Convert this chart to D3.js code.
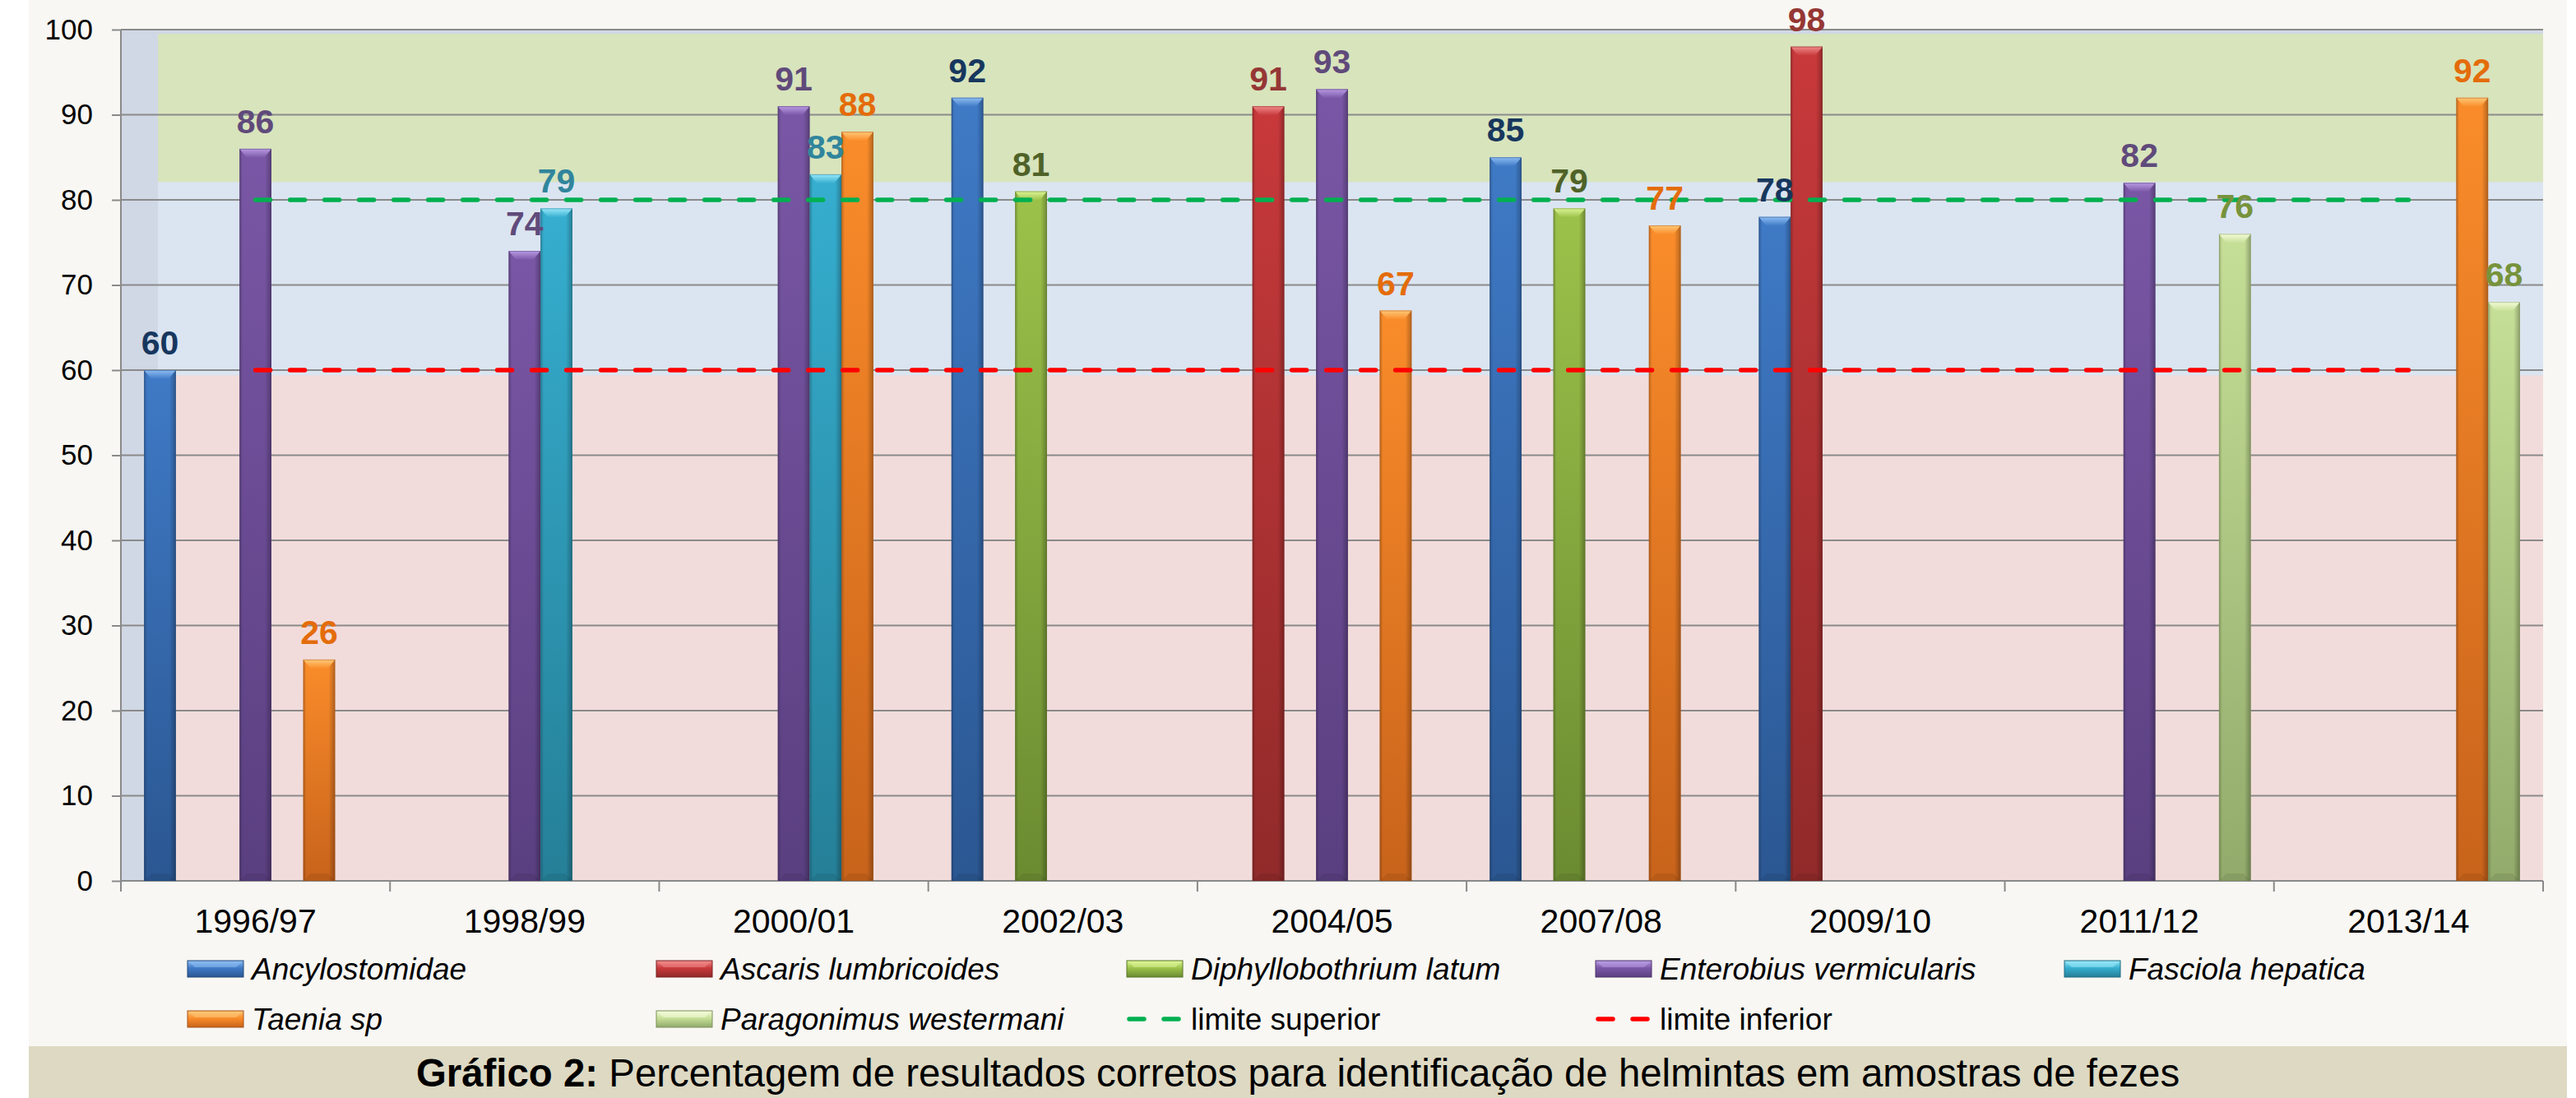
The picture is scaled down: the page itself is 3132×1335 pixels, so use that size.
<!DOCTYPE html>
<html>
<head>
<meta charset="utf-8">
<script src="https://cdn.jsdelivr.net/npm/d3@7"></script>
<style>
  html, body { margin: 0; padding: 0; background: #ffffff; }
  svg { display: block; font-family: "Liberation Sans", Arial, Helvetica, sans-serif; }
</style>
</head>
<body>
<svg id="chart" width="3132" height="1335"></svg>
<script>
// ---- data ----------------------------------------------------------------
const categories = ["1996/97", "1998/99", "2000/01", "2002/03", "2004/05",
                    "2007/08", "2009/10", "2011/12", "2013/14"];

const seriesNames = ["Ancylostomidae", "Ascaris lumbricoides", "Diphyllobothrium latum",
                     "Enterobius vermicularis", "Fasciola hepatica", "Taenia sp",
                     "Paragonimus westermani"];

// % of correct identifications per year (null = not sent that year)
const ancylostomidae   = [60, null, null, 92, null, 85, 78, null, null];
const ascaris          = [null, null, null, null, 91, null, 98, null, null];
const diphyllobothrium = [null, null, null, 81, null, 79, null, null, null];
const enterobius       = [86, 74, 91, null, 93, null, null, 82, null];
const fasciola         = [null, 79, 83, null, null, null, null, null, null];
const taenia           = [26, null, 88, null, 67, 77, null, null, 92];
const paragonimus      = [null, null, null, null, null, null, null, 76, 68];

const limiteSuperior = [80, 80, 80, 80, 80, 80, 80, 80, 80];
const limiteInferior = [60, 60, 60, 60, 60, 60, 60, 60, 60];

const yTicks = [0, 10, 20, 30, 40, 50, 60, 70, 80, 90, 100];

// shaded performance zones (value ranges)
const zoneLow  = [0, 59.4];
const zoneMid  = [59.4, 82.1];
const zoneHigh = [82.1, 99.5];

const captionBold = "Gráfico 2:";
const captionText = " Percentagem de resultados corretos para identificação de helmintas em amostras de fezes";

// ---- styles --------------------------------------------------------------
const seriesValues = [ancylostomidae, ascaris, diphyllobothrium, enterobius, fasciola, taenia, paragonimus];

const palette = [
  { top: "#3f7ac6", bottom: "#2b5792", bevel: "#8dbdf3", edge: "#23487a", label: "#17375e" },
  { top: "#c8393b", bottom: "#912a2a", bevel: "#f08a8a", edge: "#7a2222", label: "#953735" },
  { top: "#9cc24a", bottom: "#6b8b31", bevel: "#dcf595", edge: "#5a7428", label: "#4f6228" },
  { top: "#7a57a6", bottom: "#5a3f80", bevel: "#b99ae4", edge: "#4a346a", label: "#604a7b" },
  { top: "#36aecf", bottom: "#257f97", bevel: "#98e8fa", edge: "#1f6b80", label: "#31859c" },
  { top: "#fa8c2a", bottom: "#c8631b", bevel: "#ffc977", edge: "#a55217", label: "#e46c0a" },
  { top: "#c6df97", bottom: "#92aa6b", bevel: "#f4fcd8", edge: "#7b905a", label: "#77933c" }
];
const lineStyles = [
  { name: "limite superior", values: limiteSuperior, color: "#00b050" },
  { name: "limite inferior", values: limiteInferior, color: "#ff0000" }
];

const W = 3132, H = 1335;
const frame = { left: 35, right: 3121, bottom: 1272 };
const plot  = { left: 147, right: 3092, top: 36, bottom: 1071 };
const zoneInset = 45;

const svg = d3.select("#chart");
const defs = svg.append("defs");

// ---- scales --------------------------------------------------------------
const x = d3.scaleBand().domain(categories).range([plot.left, plot.right]).padding(0);
const xs = d3.scaleBand().domain(seriesNames).range([0, x.bandwidth()])
  .paddingInner(0).paddingOuter(0.727);
const y = d3.scaleLinear().domain([0, 100]).range([plot.bottom, plot.top]);

// ---- gradients -----------------------------------------------------------
palette.forEach((p, i) => {
  const g = defs.append("linearGradient").attr("id", "body" + i)
    .attr("x1", 0).attr("y1", 0).attr("x2", 0).attr("y2", 1);
  g.append("stop").attr("offset", "0%").attr("stop-color", p.top);
  g.append("stop").attr("offset", "100%").attr("stop-color", p.bottom);

  const b = defs.append("linearGradient").attr("id", "bevel" + i)
    .attr("x1", 0).attr("y1", 0).attr("x2", 0).attr("y2", 1);
  b.append("stop").attr("offset", "0%").attr("stop-color", p.bevel);
  b.append("stop").attr("offset", "100%").attr("stop-color", p.top);

  const s = defs.append("linearGradient").attr("id", "swatch" + i)
    .attr("x1", 0).attr("y1", 0).attr("x2", 0).attr("y2", 1);
  s.append("stop").attr("offset", "0%").attr("stop-color", p.bevel);
  s.append("stop").attr("offset", "45%").attr("stop-color", p.top);
  s.append("stop").attr("offset", "100%").attr("stop-color", p.bottom);
});
// side shading shared by all bars
const side = defs.append("linearGradient").attr("id", "side")
  .attr("x1", 0).attr("y1", 0).attr("x2", 1).attr("y2", 0);
[["0%", 0.22], ["10%", 0.0], ["80%", 0.0], ["100%", 0.28]].forEach(([o, a]) =>
  side.append("stop").attr("offset", o).attr("stop-color", "#000").attr("stop-opacity", a));

// ---- frame & background --------------------------------------------------
svg.append("rect").attr("x", frame.left).attr("y", 0)
  .attr("width", frame.right - frame.left).attr("height", frame.bottom)
  .attr("fill", "#f8f7f3");
svg.append("rect").attr("x", frame.left).attr("y", frame.bottom)
  .attr("width", frame.right - frame.left).attr("height", H - frame.bottom)
  .attr("fill", "#ddd9c3");

svg.append("rect").attr("x", plot.left).attr("y", plot.top)
  .attr("width", plot.right - plot.left).attr("height", plot.bottom - plot.top)
  .attr("fill", "#d0d8e5");

const zones = [
  { range: zoneLow,  color: "#f2dcdb" },
  { range: zoneMid,  color: "#dbe5f1" },
  { range: zoneHigh, color: "#d8e4bc" }
];
svg.append("g").selectAll("rect").data(zones).join("rect")
  .attr("x", plot.left + zoneInset)
  .attr("width", plot.right - plot.left - zoneInset)
  .attr("y", d => y(d.range[1]))
  .attr("height", d => y(d.range[0]) - y(d.range[1]))
  .attr("fill", d => d.color);

// ---- grid & axes ---------------------------------------------------------
const gridColor = "#8a8a8a";
svg.append("g").selectAll("line").data(yTicks.filter(t => t > 0)).join("line")
  .attr("x1", plot.left).attr("x2", plot.right)
  .attr("y1", d => y(d)).attr("y2", d => y(d))
  .attr("stroke", gridColor).attr("stroke-width", 2);

const yAxis = svg.append("g").attr("transform", `translate(${plot.left},0)`)
  .call(d3.axisLeft(y).tickValues(yTicks).tickSize(11).tickPadding(23).tickSizeOuter(0));
yAxis.select(".domain").remove();
yAxis.selectAll(".tick line").attr("stroke", gridColor).attr("stroke-width", 2);
yAxis.selectAll(".tick text").attr("font-size", 35).attr("fill", "#000")
  .attr("font-family", "Liberation Sans, Arial, sans-serif");
svg.append("line").attr("x1", plot.left).attr("x2", plot.left)
  .attr("y1", plot.top).attr("y2", plot.bottom + 13)
  .attr("stroke", gridColor).attr("stroke-width", 2);

const xAxis = svg.append("g").attr("transform", `translate(0,${plot.bottom})`)
  .call(d3.axisBottom(x).tickSize(0).tickPadding(34));
xAxis.select(".domain").remove();
xAxis.selectAll(".tick text").attr("font-size", 41).attr("fill", "#000")
  .attr("font-family", "Liberation Sans, Arial, sans-serif");
svg.append("line").attr("x1", plot.left).attr("x2", plot.right)
  .attr("y1", plot.bottom).attr("y2", plot.bottom)
  .attr("stroke", gridColor).attr("stroke-width", 2);
// category boundary ticks
svg.append("g").selectAll("line").data(categories.concat([null])).join("line")
  .attr("x1", d => d === null ? plot.right : x(d))
  .attr("x2", d => d === null ? plot.right : x(d))
  .attr("y1", plot.bottom).attr("y2", plot.bottom + 13)
  .attr("stroke", gridColor).attr("stroke-width", 2);

// ---- bars ----------------------------------------------------------------
const bars = [];
seriesValues.forEach((vals, si) => vals.forEach((v, ci) => {
  if (v !== null) bars.push({ si, cat: categories[ci], value: v });
}));

const bw = xs.bandwidth();
const barG = svg.append("g").selectAll("g").data(bars).join("g")
  .attr("transform", d => `translate(${x(d.cat) + xs(seriesNames[d.si])},0)`);

barG.append("rect")
  .attr("x", 0).attr("width", bw)
  .attr("y", d => y(d.value)).attr("height", d => y(0) - y(d.value))
  .attr("fill", d => `url(#body${d.si})`);
barG.append("rect")
  .attr("x", 0).attr("width", bw)
  .attr("y", d => y(d.value)).attr("height", d => y(0) - y(d.value))
  .attr("fill", "url(#side)");
// bevelled top
barG.append("path")
  .attr("d", d => {
    const t = y(d.value), b = 9, h = 11;
    return `M0,${t}L${bw},${t}L${bw - b},${t + h}L${b},${t + h}Z`;
  })
  .attr("fill", d => `url(#bevel${d.si})`);
// soft base
barG.append("path")
  .attr("d", d => {
    const b0 = y(0), b = 9, h = 9;
    return `M${b},${b0 - h}L${bw - b},${b0 - h}L${bw},${b0}L0,${b0}Z`;
  })
  .attr("fill", "#000").attr("fill-opacity", 0.08);
barG.append("rect")
  .attr("x", 0.5).attr("width", bw - 1)
  .attr("y", d => y(d.value) + 0.5).attr("height", d => y(0) - y(d.value) - 1)
  .attr("fill", "none").attr("stroke", d => palette[d.si].edge)
  .attr("stroke-opacity", 0.45).attr("stroke-width", 1);

// ---- limit lines ---------------------------------------------------------
const line = d3.line()
  .x((d, i) => x(categories[i]) + x.bandwidth() / 2)
  .y(d => y(d));
svg.append("g").selectAll("path").data(lineStyles).join("path")
  .attr("d", d => line(d.values))
  .attr("fill", "none").attr("stroke", d => d.color)
  .attr("stroke-width", 5.5).attr("stroke-linecap", "round")
  .attr("stroke-dasharray", "18 24");

// ---- value labels --------------------------------------------------------
svg.append("g").selectAll("text").data(bars).join("text")
  .attr("x", d => x(d.cat) + xs(seriesNames[d.si]) + bw / 2)
  .attr("y", d => y(d.value) - 19)
  .attr("text-anchor", "middle")
  .attr("font-size", 41).attr("font-weight", "bold")
  .attr("fill", d => palette[d.si].label)
  .text(d => d.value);

// ---- legend --------------------------------------------------------------
const legendItems = seriesNames.map((n, i) => ({ name: n, kind: "bar", si: i }))
  .concat(lineStyles.map(l => ({ name: l.name, kind: "line", color: l.color })));
const colX = [228, 798, 1370, 1940, 2510];
const rowY = [1178, 1239];
const legend = svg.append("g").selectAll("g").data(legendItems).join("g")
  .attr("transform", (d, i) => `translate(${colX[i % 5]},${rowY[Math.floor(i / 5)]})`);

legend.filter(d => d.kind === "bar").each(function (d) {
  const g = d3.select(this);
  g.append("rect").attr("x", 0).attr("y", -10).attr("width", 68).attr("height", 20)
    .attr("fill", `url(#swatch${d.si})`)
    .attr("stroke", palette[d.si].edge).attr("stroke-width", 1);
  g.append("path").attr("d", "M1,-9L67,-9L59,-2L9,-2Z")
    .attr("fill", palette[d.si].bevel).attr("fill-opacity", 0.55);
});
legend.filter(d => d.kind === "line").append("path")
  .attr("d", "M3,0L66,0")
  .attr("stroke", d => d.color).attr("stroke-width", 5.5)
  .attr("stroke-linecap", "round").attr("stroke-dasharray", "18 24");

legend.append("text")
  .attr("x", 78).attr("y", 0).attr("dy", "0.35em")
  .attr("font-size", 37)
  .attr("font-style", d => d.kind === "bar" ? "italic" : "normal")
  .attr("fill", "#000")
  .text(d => d.name);

// ---- caption -------------------------------------------------------------
const cap = svg.append("text")
  .attr("x", (frame.left + frame.right) / 2).attr("y", 1321)
  .attr("text-anchor", "middle").attr("font-size", 47.4).attr("fill", "#000");
cap.append("tspan").attr("font-weight", "bold").text(captionBold);
cap.append("tspan").text(captionText);
</script>
</body>
</html>
